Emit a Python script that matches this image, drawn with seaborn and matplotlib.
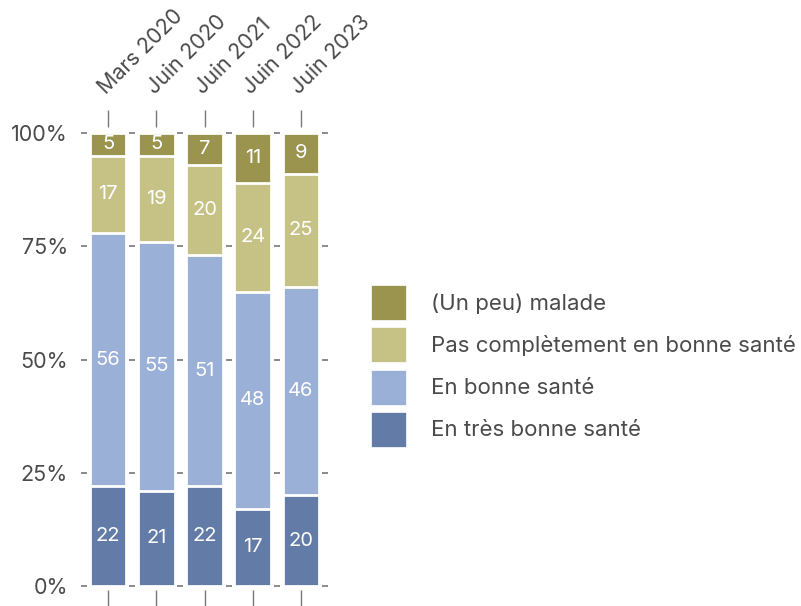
import numpy as np
import seaborn as sns
import matplotlib.pyplot as plt
from matplotlib.patches import Patch
from matplotlib.transforms import ScaledTranslation

# données (en %)
periodes = ["Mars 2020", "Juin 2020", "Juin 2021", "Juin 2022", "Juin 2023"]
tres_bonne = [22, 21, 22, 17, 20]
bonne = [56, 55, 51, 48, 46]
pas_complet = [17, 19, 20, 24, 25]
malade = [5, 5, 7, 11, 9]

categories = ["En très bonne santé", "En bonne santé",
              "Pas complètement en bonne santé", "(Un peu) malade"]
couleurs = ["#627ba7", "#9bb0d7", "#c6c185", "#9b944e"]
yticks = [0, 25, 50, 75, 100]

sns.set_style("white")
plt.rcParams['font.family'] = ['Inter', 'DejaVu Sans']
gris = "#4a4a4a"

fig = plt.figure(figsize=(8.01, 6.06), dpi=100)
ax = fig.add_axes([0.1049, 0.033, 0.3009, 0.7475])

series = [tres_bonne, bonne, pas_complet, malade]
cumul = np.cumsum(np.array(series), axis=0)

# barres empilées : on trace du haut vers le bas (cumuls)
for k in range(len(series) - 1, -1, -1):
    sns.barplot(x=periodes, y=cumul[k], color=couleurs[k], width=0.76,
                edgecolor="white", linewidth=2, saturation=1, ax=ax, zorder=2)

# valeurs au centre des segments
for k, vals in enumerate(series):
    bas = cumul[k] - np.array(vals)
    for i, v in enumerate(vals):
        ax.text(i, bas[i] + v / 2, str(v), ha="center", va="center",
                color="white", fontsize=14.5, zorder=3)

n = len(periodes)
ax.set_xlim(-0.5, n - 0.5)
ax.set_ylim(0, 100)

# petits tirets entre les barres à chaque graduation
for y in yticks:
    ax.plot(np.arange(n + 1) - 0.5, [y] * (n + 1), ls="none", marker="_",
            markersize=5, markeredgewidth=1.2, color="#777777",
            clip_on=False, zorder=1)

ax.set_yticks(yticks)
ax.set_yticklabels([f"{y}%" for y in yticks])
ax.tick_params(axis="y", length=0, pad=11.5, labelsize=15.5, labelcolor=gris)

ax.spines["top"].set_position(("outward", 4.3))
ax.spines["bottom"].set_position(("outward", 2.9))
for s in ax.spines.values():
    s.set_visible(False)

ax.tick_params(axis="x", top=True, bottom=True, labeltop=True, labelbottom=False,
               length=12.2, width=1, color="#777777", pad=9,
               labelsize=15.5, labelcolor=gris)
ax.set_xticks(range(n))
ax.set_xticklabels(periodes, rotation=45, ha="left", va="bottom",
                   rotation_mode="anchor")
decal = ScaledTranslation(1.0 / 100, 0, fig.dpi_scale_trans)
for lab in ax.get_xticklabels():
    lab.set_transform(lab.get_transform() + decal)
ax.set_xlabel("")
ax.set_ylabel("")

# légende
poignees = [Patch(facecolor=couleurs[k], edgecolor="white", linewidth=0.5)
            for k in range(len(categories) - 1, -1, -1)]
etiquettes = categories[::-1]
fs_leg = 16
fig.legend(poignees, etiquettes, loc="center left",
           bbox_to_anchor=(0.463, 0.396), frameon=False, fontsize=fs_leg,
           handlelength=1.575, handleheight=2.046, handletextpad=1.15,
           labelspacing=0.32, borderpad=0, borderaxespad=0,
           labelcolor=gris)

fig.savefig("out.png", dpi=100, facecolor="white")
